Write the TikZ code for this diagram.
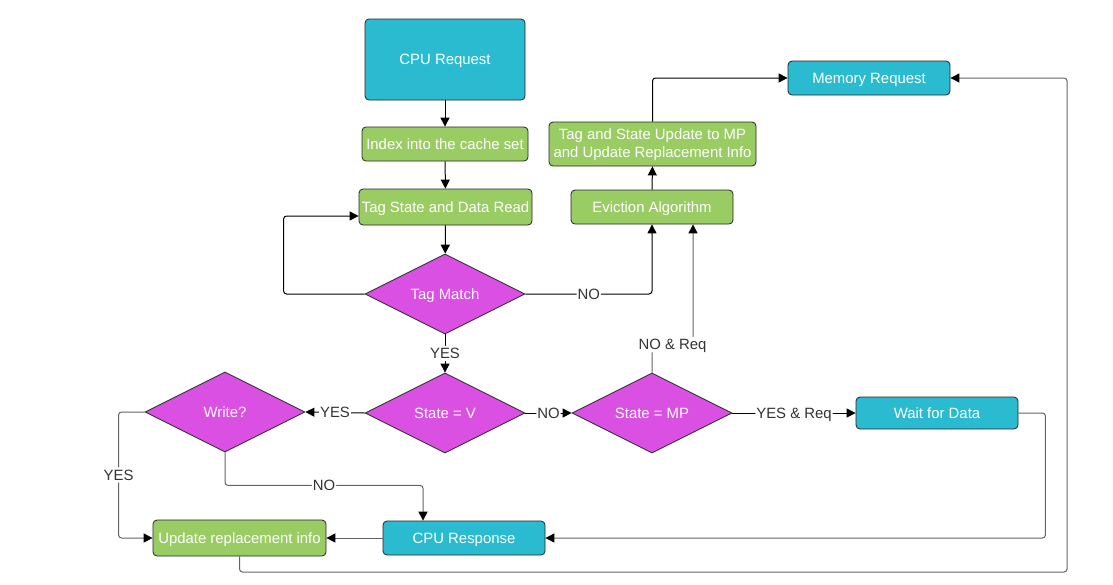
\documentclass[tikz,border=0pt]{standalone}
\usepackage{fontspec}
\setmainfont{Liberation Sans}
\usetikzlibrary{shapes.geometric,arrows.meta}
\definecolor{teal1}{RGB}{42,187,208}
\definecolor{green1}{RGB}{154,204,100}
\definecolor{mag1}{RGB}{218,80,226}
\definecolor{lab}{RGB}{51,51,51}
\definecolor{ln}{RGB}{100,100,100}
\begin{document}
\begin{tikzpicture}[x=1pt,y=-1pt,
  txt/.style={font=\fontsize{14.9}{18}\selectfont, text height=12pt, text depth=1.4pt},
  box/.style={txt, draw=black!85, rounded corners=4pt, text=white, inner sep=0pt, line width=0.8pt, align=center},
  tealbox/.style={box, fill=teal1},
  greenbox/.style={box, fill=green1},
  dia/.style={txt, diamond, aspect=2, draw=black!85, fill=mag1, text=white, inner sep=0pt, line width=0.8pt, minimum width=160pt, minimum height=80pt},
  conn/.style={draw=black, line width=1pt, rounded corners=3pt, -{Triangle[length=9pt,width=9pt,color=black]}},
  gconn/.style={conn, draw=ln},
  lbl/.style={txt, fill=white, text=lab, inner sep=1pt}
]
\useasboundingbox (0,0) rectangle (1113,584);
\fill[white] (0,0) rectangle (1113,584);

% nodes
\node[tealbox, minimum width=160pt, minimum height=81pt] (cpu) at (445,59.5) {CPU Request};
\node[greenbox, minimum width=166pt, minimum height=34pt] (idx) at (445,144) {Index into the cache set};
\node[greenbox, minimum width=173pt, minimum height=36pt] (tsr) at (445.5,207) {Tag State and Data Read};
\node[dia] (tm) at (445,294) {Tag Match};
\node[greenbox, minimum width=162pt, minimum height=34pt] (ev) at (652,207) {Eviction Algorithm};
\node[greenbox, text height=, text depth=, minimum width=207pt, minimum height=44pt] (tu) at (652.5,144) {\rule{0pt}{13pt}Tag and State Update to MP\\and Update Replacement Info};
\node[tealbox, minimum width=162pt, minimum height=34pt] (mem) at (869,78) {Memory Request};
\node[dia] (sv) at (445,413) {State = V};
\node[dia] (smp) at (652,413) {State = MP};
\node[dia] (wr) at (225,412) {Write?};
\node[tealbox, minimum width=162pt, minimum height=32pt] (wait) at (937,413) {Wait for Data};
\node[tealbox, minimum width=162pt, minimum height=34pt] (cpur) at (464,538) {CPU Response};
\node[greenbox, minimum width=173pt, minimum height=36pt] (upd) at (239.5,538) {Update replacement info};

\coordinate (rb) at (1067,572);

% connectors
\draw[conn] (cpu) -- (idx);
\draw[conn] (idx) -- (tsr);
\draw[conn] (tsr) -- (tm);
\draw[conn] (tm.west) -- ++(-81,0) |- ([yshift=-9pt]tsr.west);
\draw[conn] (tm.east) -| node[lbl, pos=0.25]{NO} (ev.south);
\draw[conn] (ev.north) -- (tu.south);
\draw[conn] (tu.north) |- (mem.west);
\draw[conn] (tm.south) -- node[lbl]{YES} (sv.north);
\draw[conn] (sv.west) -- node[lbl]{YES} (wr.east);
\draw[conn] (sv.east) -- node[lbl]{NO} (smp.west);
\draw[conn] (smp.east) -- node[lbl]{YES \& Req} (wait.west);
\draw[gconn] (smp.north) -- ++(0,-28) -- node[lbl]{NO \& Req} ++(41,0) -- ([xshift=41pt]ev.south);
\draw[gconn] (wait.east) -- ++(27,0) |- (cpur.east);
\draw[gconn] (cpur.west) -- (upd.east);
\draw[gconn] (wr.west) -- ++(-26,0) |- node[lbl, pos=0.25]{YES} (upd.west);
\draw[gconn] (wr.south) -- ++(0,33) -| node[lbl, pos=0.25]{NO} ([xshift=-41pt]cpur.north);
\draw[gconn] (upd.south) |- (rb) |- (mem.east);
\end{tikzpicture}
\end{document}
